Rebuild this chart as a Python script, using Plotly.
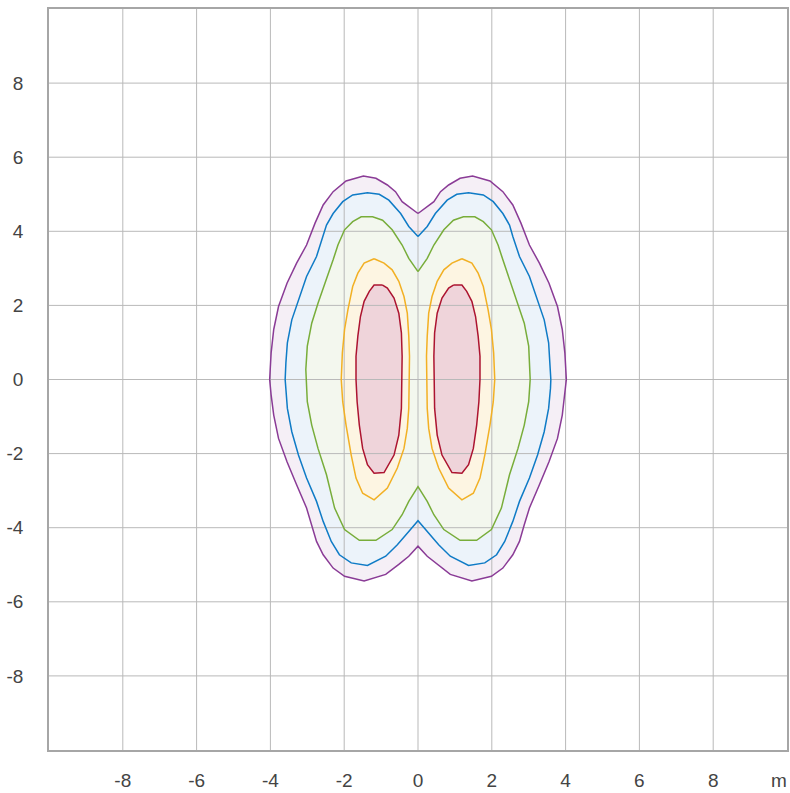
import plotly.graph_objects as go

# ---- axis ticks ----
tick_vals = [-8, -6, -4, -2, 0, 2, 4, 6, 8]
tick_text = ["-8", "-6", "-4", "-2", "0", "2", "4", "6", "8"]
axis_range = [-10, 10]
unit_label = "m"

# ---- contour levels (right half; diagram is mirror-symmetric about x=0) ----
purple_x = [0, 0.43, 0.61, 0.83, 1.14, 1.48, 1.95, 2.30, 2.57, 2.79, 3.02, 3.29, 3.55, 3.78, 3.91, 3.98, 4.02,
            3.98, 3.91, 3.78, 3.55, 3.29, 3.02, 2.88, 2.75, 2.57, 2.30, 1.99, 1.46, 0.875, 0.52, 0.25, 0]
purple_y = [4.48, 4.80, 5.07, 5.25, 5.43, 5.49, 5.36, 5.07, 4.71, 4.22, 3.63, 3.14, 2.60, 1.97, 1.35, 0.72, 0,
            -0.42, -0.96, -1.59, -2.22, -2.84, -3.47, -3.92, -4.37, -4.73, -5.09, -5.31, -5.44, -5.26, -4.99, -4.77, -4.50]

blue_x = [0, 0.25, 0.47, 0.79, 1.05, 1.37, 1.77, 2.04, 2.30, 2.48, 2.57, 2.75, 3.02, 3.24, 3.42, 3.54, 3.58, 3.60,
          3.59, 3.54, 3.42, 3.24, 3.02, 2.75, 2.57, 2.35, 2.13, 1.81, 1.37, 0.875, 0.56, 0.25, 0]
blue_y = [3.86, 4.13, 4.48, 4.84, 5.00, 5.04, 4.98, 4.80, 4.48, 4.17, 3.86, 3.32, 2.78, 2.15, 1.61, 0.99, 0.45, 0,
          -0.24, -0.78, -1.41, -2.04, -2.66, -3.29, -3.83, -4.37, -4.73, -4.95, -5.02, -4.77, -4.46, -4.10, -3.81]

green_x = [0, 0.25, 0.43, 0.70, 0.96, 1.23, 1.54, 1.77, 1.99, 2.17, 2.30, 2.48, 2.71, 2.88, 3.00, 3.04, 3.04,
           3.00, 2.88, 2.71, 2.48, 2.26, 1.99, 1.59, 1.14, 0.70, 0.43, 0.25, 0]
green_y = [2.91, 3.27, 3.63, 4.04, 4.30, 4.39, 4.39, 4.26, 4.04, 3.63, 3.23, 2.69, 2.06, 1.52, 0.90, 0.27, 0,
           -0.60, -1.23, -1.86, -2.57, -3.47, -4.05, -4.34, -4.34, -4.05, -3.65, -3.29, -2.89]

# inner levels form two separate lobes; right lobe given, left lobe is its mirror
orange_x = [1.19, 1.46, 1.63, 1.77, 1.90, 1.99, 2.05, 2.08, 2.04, 1.95, 1.81, 1.68, 1.50, 1.19, 0.83, 0.56,
            0.38, 0.29, 0.25, 0.23, 0.23, 0.25, 0.29, 0.38, 0.52, 0.70, 0.92, 1.19]
orange_y = [3.26, 3.14, 2.87, 2.51, 1.88, 1.35, 0.72, 0, -0.60, -1.23, -2.04, -2.66, -3.07, -3.25, -2.93, -2.39,
            -1.86, -1.32, -0.78, 0, 0.63, 1.17, 1.79, 2.24, 2.65, 2.96, 3.14, 3.26]

red_x = [0.96, 1.19, 1.32, 1.46, 1.56, 1.63, 1.68, 1.68, 1.65, 1.59, 1.50, 1.37, 1.19, 0.92, 0.65, 0.52, 0.45,
         0.43, 0.43, 0.45, 0.52, 0.65, 0.83, 0.96]
red_y = [2.55, 2.55, 2.38, 2.11, 1.70, 1.17, 0.63, 0, -0.60, -1.23, -1.86, -2.30, -2.53, -2.51, -2.04, -1.50, -0.78,
         0, 0.63, 1.26, 1.79, 2.20, 2.47, 2.55]

line_colors = {"purple": "#8a3b96", "blue": "#0f7bc6", "green": "#78ad3a", "orange": "#f2b024", "red": "#ac1430"}
fill_colors = {"purple": "#f5eff6", "blue": "#ecf3fa", "green": "#f3f7ee", "orange": "#fdf5e2", "red": "#efd4da"}


def full_outline(xr, yr):
    # right half + mirrored left half
    xs = list(xr) + [-v for v in reversed(xr)]
    ys = list(yr) + list(reversed(yr))
    return xs, ys


def mirror(xr, yr):
    return [-v for v in xr], list(yr)


shapes_data = []
for name, xr, yr in [("purple", purple_x, purple_y), ("blue", blue_x, blue_y), ("green", green_x, green_y)]:
    shapes_data.append((name, *full_outline(xr, yr)))
for name, xr, yr in [("orange", orange_x, orange_y), ("red", red_x, red_y)]:
    shapes_data.append((name, list(xr), list(yr)))
    shapes_data.append((name, *mirror(xr, yr)))

fig = go.Figure()

# fills
for name, xs, ys in shapes_data:
    fig.add_trace(go.Scatter(x=xs, y=ys, mode="lines", fill="toself", fillcolor=fill_colors[name],
                             line=dict(width=0, color=fill_colors[name]), hoverinfo="skip", showlegend=False))

# grid lines drawn above the fills
gx, gy = [], []
for t in tick_vals:
    gx += [t, t, None]
    gy += [axis_range[0], axis_range[1], None]
    gx += [axis_range[0], axis_range[1], None]
    gy += [t, t, None]
fig.add_trace(go.Scatter(x=gx, y=gy, mode="lines", line=dict(color="#b9b9b9", width=1),
                         hoverinfo="skip", showlegend=False))

# contour lines
for name, xs, ys in shapes_data:
    fig.add_trace(go.Scatter(x=xs, y=ys, mode="lines", line=dict(width=1.5, color=line_colors[name]),
                             hoverinfo="skip", showlegend=False))

tick_font = dict(family="Liberation Sans, Arial", size=19, color="#444444")
axis_common = dict(range=axis_range, showgrid=False, zeroline=False, showline=True, mirror=True,
                   linecolor="#a6a6a6", linewidth=1.5, tickvals=tick_vals, ticktext=tick_text,
                   ticks="", tickfont=tick_font)

fig.update_layout(
    width=790, height=793,
    margin=dict(l=49, r=1, t=9, b=43),
    paper_bgcolor="white", plot_bgcolor="white",
    xaxis=dict(**axis_common, ticklabelstandoff=12),
    yaxis=dict(**axis_common, ticklabelstandoff=20),
    annotations=[dict(text=unit_label, xref="paper", yref="paper", x=1, y=0, xanchor="right", yanchor="top",
                      yshift=-18, xshift=2, showarrow=False, font=tick_font)],
)

fig.write_html("out.html")
